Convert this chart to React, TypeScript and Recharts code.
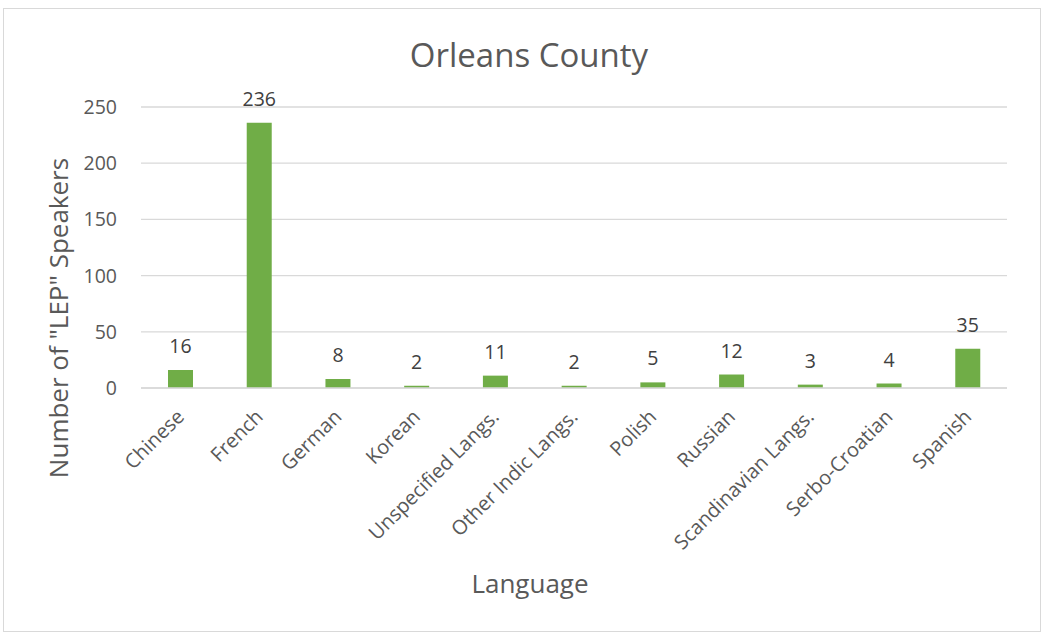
import React from "react";
import { BarChart, Bar, XAxis, YAxis, CartesianGrid, LabelList } from "recharts";

const languages = [
  "Chinese",
  "French",
  "German",
  "Korean",
  "Unspecified Langs.",
  "Other Indic Langs.",
  "Polish",
  "Russian",
  "Scandinavian Langs.",
  "Serbo-Croatian",
  "Spanish",
];
const speakers = [16, 236, 8, 2, 11, 2, 5, 12, 3, 4, 35];
const yTicks = [0, 50, 100, 150, 200, 250];

const data = languages.map((name, i) => ({ name, value: speakers[i] }));

const FONT = "'Open Sans', 'DejaVu Sans', sans-serif";
const GREY = "#595959";

const XTick = (props: any) => {
  const { x, y, payload } = props;
  return (
    <g transform={`translate(${x + 5},${y + 22})`}>
      <text
        x={0}
        y={0}
        transform="rotate(-45)"
        textAnchor="end"
        fontFamily={FONT}
        fontSize={20}
        fill={GREY}
      >
        {payload.value}
      </text>
    </g>
  );
};

export default function App() {
  return (
    <div style={{ position: "absolute", left: 0, top: 0, width: 1045, height: 634, background: "#fff" }}>
      <div
        style={{
          position: "absolute",
          left: 3,
          top: 8,
          width: 1036,
          height: 622,
          border: "1px solid #d9d9d9",
        }}
      />
      <div style={{ position: "absolute", left: 0, top: 0 }}>
        <BarChart
          width={1045}
          height={634}
          data={data}
          margin={{ top: 107, right: 38, bottom: 146, left: 81 }}
          barCategoryGap={0}
        >
          <CartesianGrid vertical={false} stroke="#d9d9d9" strokeWidth={1.3} />
          <XAxis
            dataKey="name"
            interval={0}
            height={100}
            tickLine={false}
            axisLine={{ stroke: "#d9d9d9", strokeWidth: 1.3 }}
            tick={<XTick />}
          />
          <YAxis
            width={60}
            domain={[0, 250]}
            ticks={yTicks}
            axisLine={false}
            tickLine={false}
            tickMargin={18}
            tick={{ fontFamily: FONT, fontSize: 19.5, fill: GREY }}
          />
          <Bar dataKey="value" fill="#70ad47" barSize={25} isAnimationActive={false}>
            <LabelList
              dataKey="value"
              position="top"
              offset={17}
              style={{ fontFamily: FONT, fontSize: 19.5, fill: "#404040" }}
            />
          </Bar>
        </BarChart>
      </div>
      <svg
        width={1045}
        height={634}
        style={{ position: "absolute", left: 0, top: 0, pointerEvents: "none" }}
      >
        <text
          x={529}
          y={67}
          textAnchor="middle"
          fontFamily={FONT}
          fontSize={33}
          fill={GREY}
        >
          Orleans County
        </text>
        <text
          transform="translate(68,318) rotate(-90)"
          textAnchor="middle"
          fontFamily={FONT}
          fontSize={26}
          fill={GREY}
        >
          Number of "LEP" Speakers
        </text>
        <text
          x={530}
          y={593}
          textAnchor="middle"
          fontFamily={FONT}
          fontSize={26}
          fill={GREY}
        >
          Language
        </text>
      </svg>
    </div>
  );
}
